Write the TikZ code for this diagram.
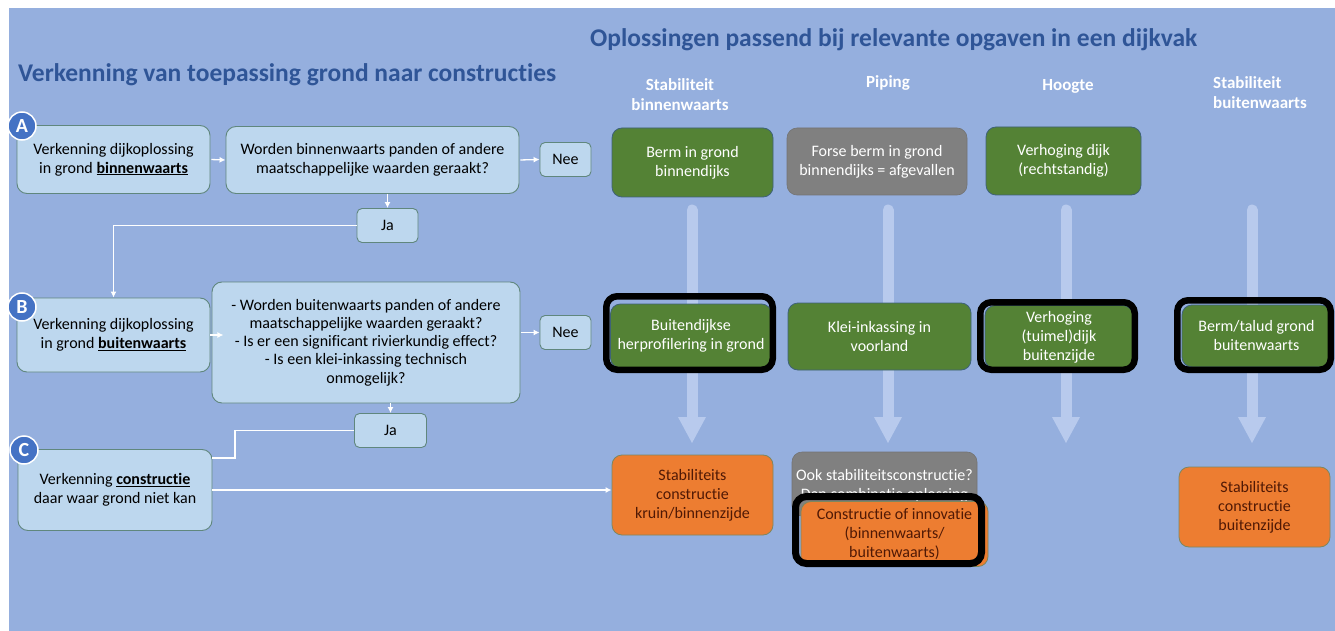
\documentclass[tikz,border=0pt]{standalone}
\usepackage{fontspec}
\setmainfont{Carlito}[Ligatures=NoCommon]
\usetikzlibrary{arrows.meta}

\definecolor{bg}{RGB}{149,175,222}
\definecolor{titleblue}{RGB}{47,85,151}
\definecolor{paleblue}{RGB}{189,215,238}
\definecolor{paleedge}{RGB}{96,135,125}
\definecolor{leafgreen}{RGB}{84,130,53}
\definecolor{greenedge}{RGB}{62,98,120}
\definecolor{midgrey}{RGB}{128,128,128}
\definecolor{orangefill}{RGB}{237,125,49}
\definecolor{orangeedge}{RGB}{125,135,95}
\definecolor{orangetext}{RGB}{80,25,5}
\definecolor{markblue}{RGB}{68,114,196}
\definecolor{arrowpale}{RGB}{184,202,237}

\begin{document}
\begin{tikzpicture}[x=1pt,y=-1pt,
  boxtext/.style={font=\fontsize{16}{19}\selectfont, align=center, inner sep=0pt},
  flowbox/.style={boxtext, draw=paleedge, fill=paleblue, line width=0.9pt, rounded corners=10pt, text=black},
  smallbox/.style={flowbox, rounded corners=5pt},
  greenbox/.style={boxtext, draw=greenedge, fill=leafgreen, line width=0.8pt, rounded corners=10pt, text=white},
  greybox/.style={boxtext, draw=midgrey!90!black, fill=midgrey, line width=0.6pt, rounded corners=10pt, text=white},
  orangebox/.style={boxtext, draw=orangeedge, fill=orangefill, line width=0.8pt, rounded corners=10pt, text=orangetext},
  frame/.style={draw=black, line width=6.5pt, rounded corners=11pt},
  colhead/.style={font=\bfseries\fontsize{17}{20}\selectfont, text=white, inner sep=0pt},
  bigtitle/.style={font=\bfseries\fontsize{25.5}{30}\selectfont, text=titleblue, inner sep=0pt},
  marker/.style={circle, fill=markblue, draw=white, line width=1.5pt, minimum size=28pt, inner sep=0pt,
                 text=white, font=\bfseries\fontsize{20}{20}\selectfont},
  link/.style={draw=white, line width=1.3pt, -{Latex[length=6pt,width=6pt]}},
  plainlink/.style={draw=white, line width=1.3pt}
]
\useasboundingbox (0,0) rectangle (1335,631);
\fill[white] (0,0) rectangle (1335,631);
\fill[bg] (9,8) rectangle (1335,631);

% titles
\node[bigtitle, anchor=base west] (lefttitle) at (18,82) {Verkenning van toepassing grond naar constructies};
\node[bigtitle, anchor=base west] (righttitle) at (590,47) {Oplossingen passend bij relevante opgaven in een dijkvak};

% column headings
\node[colhead, align=center] (headstabin) at (680,95) {Stabiliteit\\binnenwaarts};
\node[colhead] (headpiping) at (888,83) {Piping};
\node[colhead] (headhoogte) at (1068,86) {Hoogte};
\node[colhead, align=left, anchor=west] (headstabout) at (1213,93) {Stabiliteit\\buitenwaarts};

% broad pale arrows running down each column
\foreach \cx in {692,888,1066,1252} {
  \draw[arrowpale, line width=11pt, line cap=round] (\cx,210) -- (\cx,420);
  \fill[arrowpale] (\cx-14,417) -- (\cx+14,417) -- (\cx,443) -- cycle;
}

% route A: ground inward
\node[flowbox, minimum width=193pt, minimum height=68pt] (A1) at (113.5,159.5)
  {Verkenning dijkoplossing\\in grond \textbf{\underline{binnenwaarts}}};
\node[flowbox, minimum width=293pt, minimum height=67pt] (A2) at (372.5,160)
  {Worden binnenwaarts panden of andere\\maatschappelijke waarden geraakt?};
\node[smallbox, minimum width=51pt, minimum height=34pt] (neeA) at (565.5,159.5) {Nee};
\node[smallbox, minimum width=61pt, minimum height=34pt] (jaA) at (387.5,225.5) {Ja};
\node[marker] (markA) at (22,126) {A};

% route B: ground outward
\node[flowbox, minimum width=193pt, minimum height=74pt] (B1) at (113.5,335)
  {Verkenning dijkoplossing\\in grond \textbf{\underline{buitenwaarts}}};
\node[flowbox, minimum width=308pt, minimum height=121pt, font=\fontsize{16}{18.3}\selectfont] (B2) at (366,342.5)
  {- Worden buitenwaarts panden of andere\\maatschappelijke waarden geraakt?\\- Is er een significant rivierkundig effect?\\- Is een klei-inkassing technisch\\onmogelijk?};
\node[smallbox, minimum width=51pt, minimum height=34pt] (neeB) at (565.5,332.5) {Nee};
\node[smallbox, minimum width=72pt, minimum height=34pt] (jaB) at (390.5,430.5) {Ja};
\node[marker] (markB) at (22,307) {B};

% route C: construction
\node[flowbox, minimum width=194pt, minimum height=81pt] (C1) at (115,490)
  {Verkenning \textbf{\underline{constructie}}\\daar waar grond niet kan};
\node[marker] (markC) at (24,450) {C};

% connectors of the left flow
\draw[link, shorten <=1pt] (A1.east) -- (A2.west);
\draw[link, shorten <=1pt] (A2.east) -- (neeA.west);
\draw[link] (jaA.north |- A2.south) -- (jaA.north);
\draw[link] (jaA.west) -| (B1.north);
\draw[link] (B1.east) -- ++(13,0);
\draw[link, shorten <=1pt] (B2.east |- neeB.west) -- (neeB.west);
\draw[link] (jaB.north |- B2.south) -- (jaB.north);
\coordinate (jbend) at (235,458);
\draw[plainlink] (jaB.west) -| (jbend) -- (jbend -| C1.east);

% solutions, first row
\node[greenbox, minimum width=161pt, minimum height=69pt] (berm) at (692.5,162.5) {Berm in grond\\binnendijks};
\node[greybox, minimum width=180pt, minimum height=67pt] (forse) at (877,161.5) {Forse berm in grond\\binnendijks = afgevallen};
\node[greenbox, minimum width=155pt, minimum height=68pt] (verhoging) at (1063.5,161) {Verhoging dijk\\(rechtstandig)};

% solutions, second row
\node[greenbox, minimum width=161pt, minimum height=64pt] (herprof) at (691,336) {Buitendijkse\\herprofilering in grond};
\node[greenbox, minimum width=183pt, minimum height=67pt] (klei) at (879.5,336.5) {Klei-inkassing in\\voorland};
\node[greenbox, minimum width=148pt, minimum height=63pt] (tuimel) at (1059,337) {Verhoging\\(tuimel)dijk\\buitenzijde};
\node[greenbox, minimum width=149pt, minimum height=62pt] (talud) at (1256.5,336) {Berm/talud grond\\buitenwaarts};

% solutions, third row
\node[orangebox, minimum width=161pt, minimum height=80pt] (stabin) at (692.5,495) {Stabiliteits\\constructie\\kruin/binnenzijde};
\node[greybox, minimum width=185pt, minimum height=64pt, text depth=0pt] (combi) at (884.5,484)
  {Ook stabiliteitsconstructie?\\Dan combinatie oplossing};
\node[orangebox, minimum width=187pt, minimum height=65pt] (innov) at (894.5,534) {Constructie of innovatie\\(binnenwaarts/\\buitenwaarts)};
\node[orangebox, minimum width=151pt, minimum height=80pt] (stabout) at (1254.5,507) {Stabiliteits\\constructie\\buitenzijde};

\draw[link] (C1.east) -- (C1.east -| stabin.west);

% highlight frames
\draw[frame] (606.25,296.25) rectangle (772.75,369.75);
\draw[frame] (980.25,302.25) rectangle (1134.75,369.75);
\draw[frame] (1177.25,300.25) rectangle (1330.75,369.75);
\draw[frame, line width=7pt] (795.5,496.5) rectangle (981.5,563.5);
\end{tikzpicture}
\end{document}
